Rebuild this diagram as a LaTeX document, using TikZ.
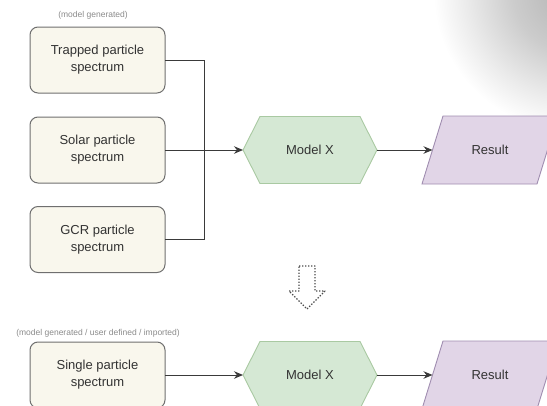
\documentclass[tikz,border=0pt]{standalone}
\usepackage{fontspec}
\setmainfont{Liberation Sans}
\usetikzlibrary{calc,arrows.meta,backgrounds}
\definecolor{txt}{HTML}{333333}
\definecolor{lbl}{HTML}{8A8A8A}
\definecolor{boxfill}{HTML}{F9F7ED}
\definecolor{boxdraw}{HTML}{6F6F6F}
\definecolor{hexfill}{HTML}{D5E8D4}
\definecolor{hexdraw}{HTML}{A9C9A2}
\definecolor{parfill}{HTML}{E1D5E7}
\definecolor{pardraw}{HTML}{A08DB0}
\definecolor{wire}{HTML}{3A3A3A}
\pgfdeclareradialshading{cornerglow}{\pgfpoint{0bp}{0bp}}{%
  color(0bp)=(black!30); color(9bp)=(black!20); color(16bp)=(black!8); color(21bp)=(white); color(50bp)=(white)}
\begin{document}
\begin{tikzpicture}[x=1pt,y=-1pt,
  every node/.style={outer sep=0pt,inner sep=0pt,text=txt,font=\fontsize{13}{17}\selectfont,align=center},
  spec/.style={draw=boxdraw,fill=boxfill,rounded corners=8pt,line width=1pt,minimum width=135pt,minimum height=66pt},
  hexbox/.style={minimum width=134pt,minimum height=67pt},
  parbox/.style={minimum width=136pt,minimum height=68pt},
  hexline/.style={draw=hexdraw,fill=hexfill,line width=0.9pt},
  parline/.style={draw=pardraw,fill=parfill,line width=0.9pt},
  note/.style={text=lbl,font=\fontsize{8.5}{10}\selectfont},
  wireline/.style={draw=wire,line width=1pt},
  arrowline/.style={wireline,-{Stealth[length=9pt,width=7.5pt]}},
  hint/.style={draw=black!70,line width=1.1pt,dash pattern=on 1.4pt off 1.6pt,line join=round}
]
\useasboundingbox (0,0) rectangle (547,405);
\begin{scope}[on background layer]
  \clip (0,0) rectangle (547,405);
  \shade[shading=cornerglow] (572,-8) circle (165);
\end{scope}

% top row
\node[note] (n1) at (93,15) {(model generated)};
\node[spec] (t) at (97.5,60) {Trapped particle\\spectrum};
\node[spec] (s) at (97.5,150) {Solar particle\\spectrum};
\node[spec] (g) at (97.5,239.5) {GCR particle\\spectrum};
\node[hexbox] (h1) at (310,150) {Model X};
\node[parbox] (p1) at (490,150) {Result};
\coordinate (j) at (204,150);
\coordinate (p1in) at ($(p1.west)+(10.5,0)$);

% bottom row
\node[note] (n2) at (98,333) {(model generated / user defined / imported)};
\node[spec] (sp) at (97.5,375) {Single particle\\spectrum};
\node[hexbox] (h2) at (310,375) {Model X};
\node[parbox] (p2) at (490,375) {Result};
\coordinate (p2in) at ($(p2.west)+(10.5,0)$);

\begin{scope}[on background layer]
  \foreach \h in {h1,h2}{
    \path[hexline] (\h.west) -- ($(\h.north west)+(17,0)$) -- ($(\h.north east)+(-17,0)$)
      -- (\h.east) -- ($(\h.south east)+(-17,0)$) -- ($(\h.south west)+(17,0)$) -- cycle;
  }
  \foreach \p in {p1,p2}{
    \path[parline] ($(\p.north west)+(21,0)$) -- (\p.north east) -- ($(\p.south east)+(-21,0)$)
      -- (\p.south west) -- cycle;
  }
\end{scope}

% connectors top
\draw[wireline] (t.east) -| (j);
\draw[wireline] (g.east) -| (j);
\draw[arrowline] (s.east) -- (h1.west);
\draw[arrowline] (h1.east) -- (p1in);

% connectors bottom
\draw[arrowline] (sp.east) -- (h2.west);
\draw[arrowline] (h2.east) -- (p2in);

% dotted down arrow
\draw[hint] (299,266) -- (315,266) -- (315,291) -- (325,291) -- (307,309) -- (289,291) -- (299,291) -- cycle;
\end{tikzpicture}
\end{document}
